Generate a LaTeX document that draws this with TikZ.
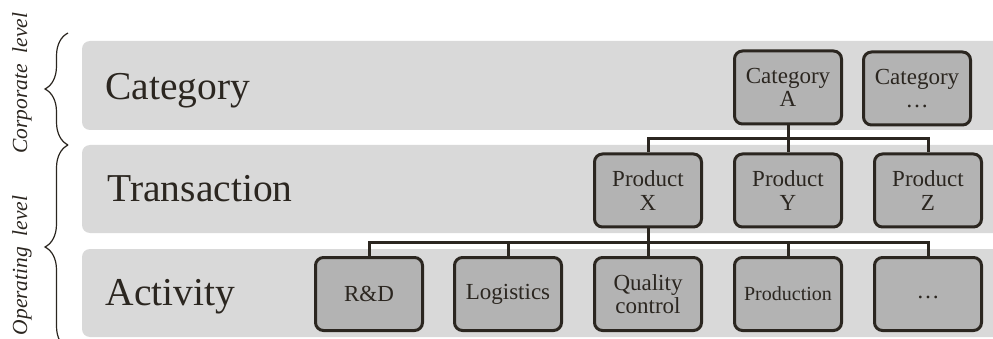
\documentclass[tikz,border=0pt]{standalone}
\usepackage{fontspec}
\setmainfont{Liberation Serif}
\usepackage{xcolor}
\usetikzlibrary{calc}
\usetikzlibrary{decorations.pathreplacing}

\definecolor{bandgray}{HTML}{D9D9D9}
\definecolor{boxgray}{HTML}{B3B3B3}
\definecolor{inkbrown}{HTML}{2B2620}

\tikzset{
  band/.style={fill=bandgray, rounded corners=8pt},
  bandlabel/.style={anchor=base west, text=inkbrown, font=\fontsize{39.5}{42}\selectfont},
  unit/.style={draw=inkbrown, fill=boxgray, line width=3pt, rounded corners=8pt,
    minimum width=107pt, minimum height=73pt, inner sep=0pt, align=center,
    text=inkbrown, font=\fontsize{23}{23.5}\selectfont},
  link/.style={draw=inkbrown, line width=3pt},
  levelbrace/.style={decorate, decoration={brace, amplitude=23pt}, draw=inkbrown, line width=1.2pt},
  leveltext/.style={rotate=90, text=inkbrown, font=\fontsize{21.5}{24}\selectfont\itshape}
}

\begin{document}
\begin{tikzpicture}[x=1pt, y=1pt, yscale=-1]
    \useasboundingbox (0,0) rectangle (993,339);
    % layers
    \fill[band] (82,41) rectangle (1010,130);
    \fill[band] (82,145) rectangle (1010,233);
    \fill[band] (82,249) rectangle (1010,337);
    \node[bandlabel] (catlabel) at (102,100) {Category};
    \node[bandlabel] (translabel) at (104,202) {Transaction};
    \node[bandlabel] (actlabel) at (102,305) {Activity};
    % levels
    \draw[levelbrace] (68,145) -- (68,33);
    \draw[levelbrace] (68,349) -- (68,145);
    \node[leveltext] (corp) at (22,83) {Corporate\enspace level};
    \node[leveltext, anchor=east] (oper) at (22,192) {Operating\enspace level};
    % boxes
    \node[unit] (catA) at (788,87.5) {Category\\A};
    \node[unit] (catmore) at (917,88.5) {Category\\\ldots};
    \node[unit] (prodX) at (648,190.5) {Product\\X};
    \node[unit] (prodY) at (788,190.5) {Product\\Y};
    \node[unit] (prodZ) at (928,190.5) {Product\\Z};
    \node[unit] (rd) at (369,294) {R\&D};
    \node[unit] (logi) at (508,294) {Logistics};
    \node[unit] (qual) at (648,294) {Quality\\control};
    \node[unit, font=\fontsize{20}{22}\selectfont] (produc) at (788,294) {Production};
    \node[unit] (actmore) at (928,294) {\strut\ldots};
    % links
    \coordinate (catfork) at ($(catA.south)!.5!(prodY.north)$);
    \coordinate (actfork) at ($(prodX.south)!.5!(qual.north)$);
    \draw[link] (catA.south) -- (prodY.north);
    \draw[link] (prodX.north) |- (catfork) -| (prodZ.north);
    \draw[link] (prodX.south) -- (qual.north);
    \draw[link] (rd.north) |- (actfork) -| (actmore.north);
    \draw[link] (logi.north) -- (logi.north |- actfork);
    \draw[link] (produc.north) -- (produc.north |- actfork);
  \end{tikzpicture}
\end{document}
